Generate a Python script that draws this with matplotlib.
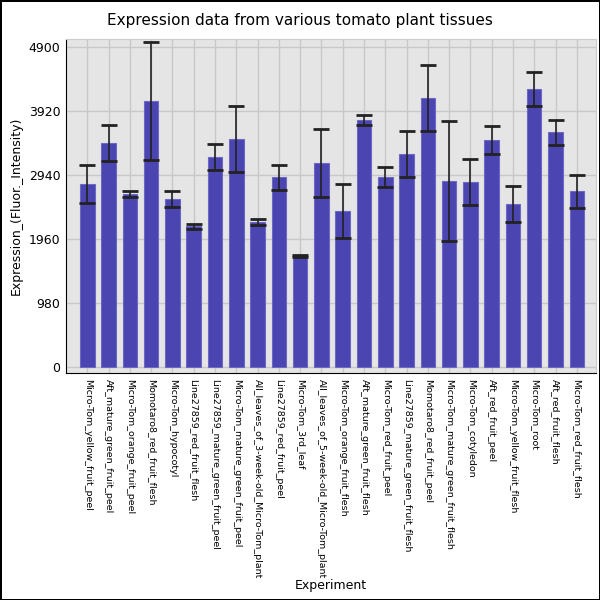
import matplotlib
matplotlib.use("Agg")
import matplotlib.pyplot as plt
import numpy as np

# sample names, in plot order
samples = [
    "Micro-Tom_yellow_fruit_peel",
    "Aft_mature_green_fruit_peel",
    "Micro-Tom_orange_fruit_peel",
    "Momotaro8_red_fruit_flesh",
    "Micro-Tom_hypocotyl",
    "Line27859_red_fruit_flesh",
    "Line27859_mature_green_fruit_peel",
    "Micro-Tom_mature_green_fruit_peel",
    "All_leaves_of_3-week-old_Micro-Tom_plant",
    "Line27859_red_fruit_peel",
    "Micro-Tom_3rd_leaf",
    "All_leaves_of_5-week-old_Micro-Tom_plant",
    "Micro-Tom_orange_fruit_flesh",
    "Aft_mature_green_fruit_flesh",
    "Micro-Tom_red_fruit_peel",
    "Line27859_mature_green_fruit_flesh",
    "Momotaro8_red_fruit_peel",
    "Micro-Tom_mature_green_fruit_flesh",
    "Micro-Tom_cotyledon",
    "Aft_red_fruit_peel",
    "Micro-Tom_yellow_fruit_flesh",
    "Micro-Tom_root",
    "Aft_red_fruit_flesh",
    "Micro-Tom_red_fruit_flesh",
]

# mean expression and error
expression = [2802, 3430, 2649, 4073, 2572, 2154, 3216, 3491, 2220, 2909, 1705, 3124,
              2389, 3782, 2909, 3262, 4119, 2848, 2833, 3476, 2496, 4257, 3598, 2695]
error = [290, 275, 50, 900, 120, 36, 205, 505, 50, 190, 17, 515,
         415, 77, 148, 358, 512, 922, 347, 210, 270, 260, 192, 252]

yticks = [0, 980, 1960, 2940, 3920, 4900]

fig = plt.figure(figsize=(6, 6), dpi=100)
fig.patch.set_edgecolor("black")
fig.patch.set_linewidth(2)

ax = fig.add_axes([0.11, 0.378, 0.8833, 0.557])
ax.set_facecolor("#e5e5e5")

x = np.arange(len(samples))
ax.set_axisbelow(True)
ax.grid(True, color="#c8c8c8", linewidth=1)

ax.bar(x, expression, width=0.68, color="#4b45b2", edgecolor="#6c68c4", linewidth=0.8)
# error bars: grey stem, black caps
ax.errorbar(x, expression, yerr=error, fmt="none", ecolor="#222222",
            elinewidth=1.2, capsize=6, capthick=2)

ax.set_xlim(-1, 23.9)
ax.set_ylim(-92, 5022)
ax.set_yticks(yticks)
ax.set_yticklabels([str(v) for v in yticks], fontsize=9)
ax.set_xticks(x)
ax.set_xticklabels(samples, rotation=270, fontsize=6.8, va="top", ha="center")
ax.tick_params(length=0, pad=4)

for side in ["top", "right"]:
    ax.spines[side].set_color("#cccccc")
ax.spines["left"].set_color("black")
ax.spines["bottom"].set_color("black")

fig.suptitle("Expression data from various tomato plant tissues", fontsize=11, y=0.966, va="center")
ax.set_ylabel("Expression_(Fluor._Intensity)", fontsize=9)
ax.set_xlabel("Experiment", fontsize=9)
ax.xaxis.set_label_coords(0.5, -0.615)

fig.savefig("out.png", dpi=100, edgecolor=fig.get_edgecolor())
